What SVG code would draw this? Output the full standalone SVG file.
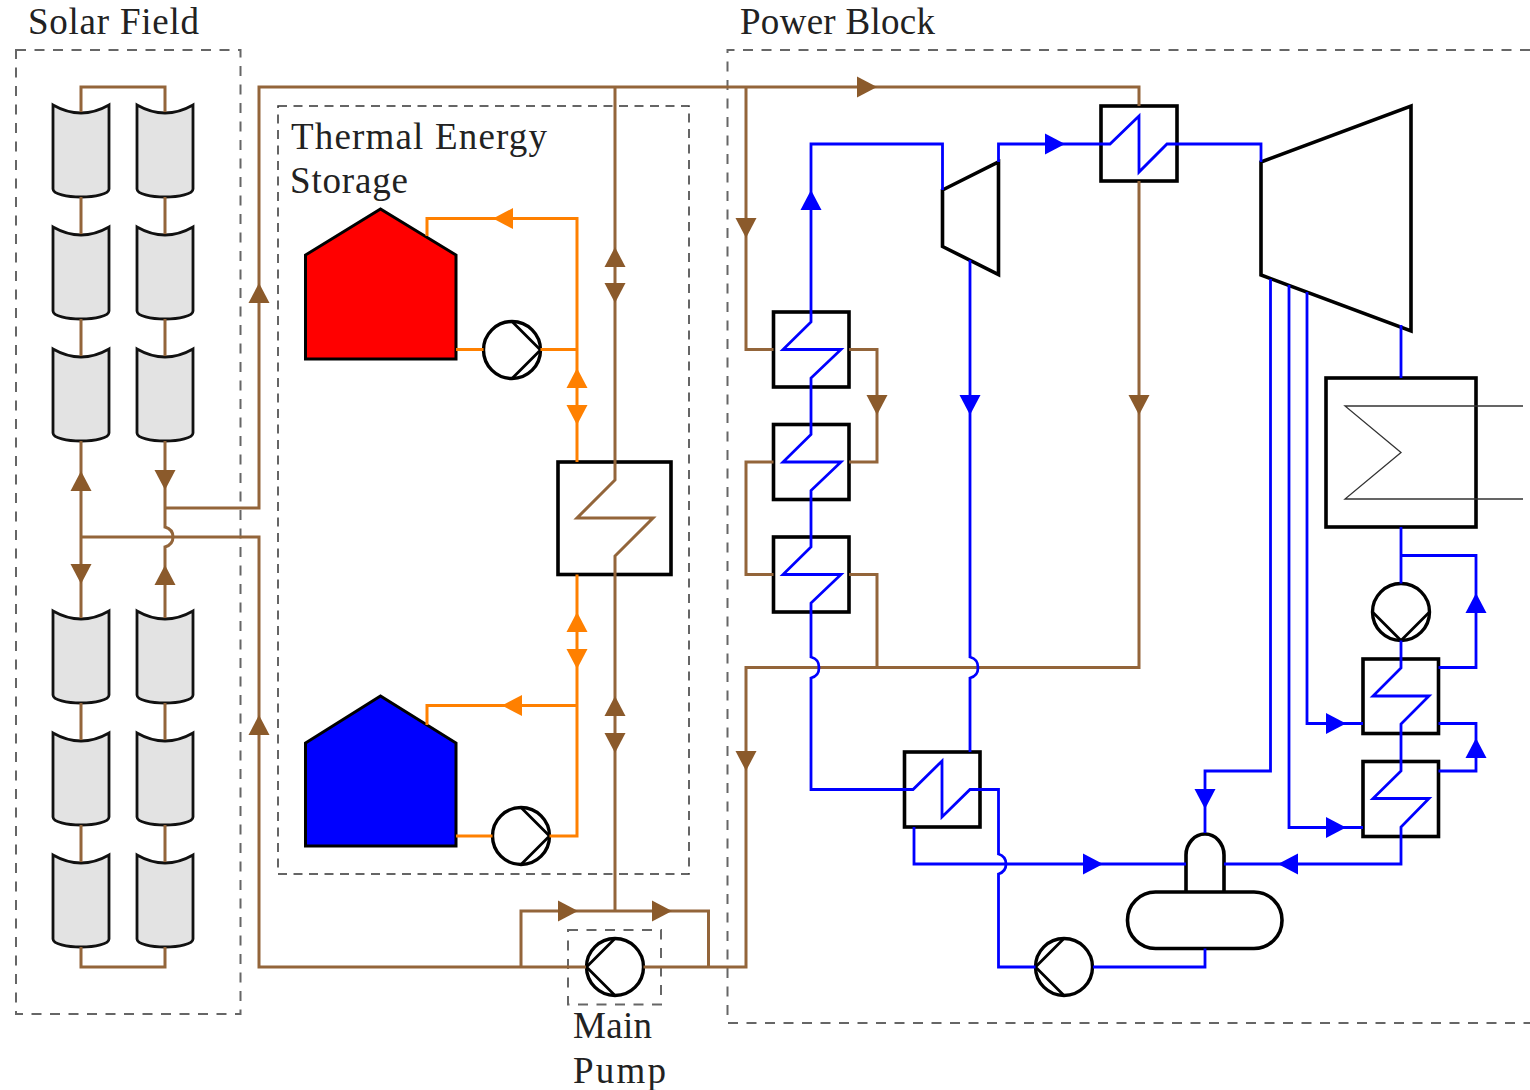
<svg xmlns="http://www.w3.org/2000/svg" xmlns:xlink="http://www.w3.org/1999/xlink" width="1530" height="1090" viewBox="0 0 1530 1090">
<style>
text{font-family:"Liberation Serif","Times New Roman",serif;font-size:37px;fill:#222}
.dash{fill:none;stroke:#666;stroke-width:2;stroke-dasharray:10 8.5}
.dash2{fill:none;stroke:#333;stroke-width:1.5;stroke-dasharray:9 6.5}
.br{fill:none;stroke:#93653a;stroke-width:3;stroke-linejoin:miter}
.bl{fill:none;stroke:#0000ff;stroke-width:2.8}
.or{fill:none;stroke:#ff8000;stroke-width:3}
.k{fill:#fff;stroke:#000;stroke-width:3.6}
.coll{fill:#e3e3e3;stroke:#111;stroke-width:2.8}
.pump{fill:#fff;stroke:#000;stroke-width:3.4}
.pl{fill:none;stroke:#000;stroke-width:2.8}
.abr{fill:#8b5a2b}.abl{fill:#0000ff}.aor{fill:#ff8000}
</style>
<defs>
<path id="a" d="M-10,-10.5 L10,0 L-10,10.5 Z"/>
<path id="c" d="M-28,-8 Q0,8 28,-8 V76 C28,81 14,84 0,84 C-14,84 -28,81 -28,76 Z"/>
<g id="p"><circle r="28.5" class="pump"/><path class="pl" d="M0,-28.5 L-28.5,0 L0,28.5"/></g>
</defs>

<g id="regions">
<rect id="solar-field" class="dash" x="16" y="50" width="224.500" height="964"/>
<path id="power-block" class="dash" d="M1530,50 H727.500 V1023 H1530"/>
<rect id="tes" class="dash2" x="278" y="106" width="411" height="768"/>
<rect id="pump-box" class="dash" x="568" y="930" width="93" height="74.500"/>
</g>

<g id="labels">
<text x="28" y="34" textLength="171">Solar Field</text>
<text x="740" y="34" textLength="195">Power Block</text>
<text x="291" y="149" textLength="256">Thermal Energy</text>
<text x="290" y="193" textLength="118">Storage</text>
<text x="573" y="1038" textLength="79">Main</text>
<text x="573" y="1083" textLength="93">Pump</text>
</g>

<g id="collectors">
<g id="c1"><use href="#c" class="coll" x="81" y="113"/></g>
<g id="c2"><use href="#c" class="coll" x="81" y="235"/></g>
<g id="c3"><use href="#c" class="coll" x="81" y="357"/></g>
<g id="c4"><use href="#c" class="coll" x="165" y="113"/></g>
<g id="c5"><use href="#c" class="coll" x="165" y="235"/></g>
<g id="c6"><use href="#c" class="coll" x="165" y="357"/></g>
<g id="c7"><use href="#c" class="coll" x="81" y="619"/></g>
<g id="c8"><use href="#c" class="coll" x="81" y="741"/></g>
<g id="c9"><use href="#c" class="coll" x="81" y="863"/></g>
<g id="c10"><use href="#c" class="coll" x="165" y="619"/></g>
<g id="c11"><use href="#c" class="coll" x="165" y="741"/></g>
<g id="c12"><use href="#c" class="coll" x="165" y="863"/></g>
</g>

<g id="hot-tank"><path d="M305.500,359 V255 L380.500,209 L456,255 V359 Z" fill="#ff0000" stroke="#000" stroke-width="3"/></g>
<g id="cold-tank"><path d="M305.500,846 V743 L380.500,696 L456,743 V846 Z" fill="#0000ff" stroke="#000" stroke-width="3"/></g>
<g id="hx-main"><rect class="k" x="558" y="462" width="113" height="112.500"/></g>
<g id="hx-top"><rect class="k" x="1101" y="106" width="76" height="75"/></g>
<g id="hx-1"><rect class="k" x="773.500" y="312" width="75.500" height="75"/></g>
<g id="hx-2"><rect class="k" x="773.500" y="424.500" width="75.500" height="75"/></g>
<g id="hx-3"><rect class="k" x="773.500" y="537" width="75.500" height="75"/></g>
<g id="hx-low"><rect class="k" x="904.500" y="752" width="75.500" height="75"/></g>
<g id="hx-r1"><rect class="k" x="1363" y="659" width="75.500" height="74.500"/></g>
<g id="hx-r2"><rect class="k" x="1363" y="761.500" width="75.500" height="75"/></g>
<g id="turbine-hp"><path class="k" d="M942.500,190 L998.500,162 V274.500 L942.500,246.500 Z"/></g>
<g id="turbine-lp"><path class="k" d="M1261,162 L1411,106 V331 L1261,275 Z"/></g>
<g id="condenser"><rect class="k" x="1326" y="378" width="150" height="149"/><path d="M1523,406 H1345 L1401,452.500 L1345,499 H1523" fill="none" stroke="#333" stroke-width="1.300"/></g>
<g id="deaerator"><path class="k" d="M1186,892 V855 A19,21 0 0 1 1224,855 V892"/><rect class="k" x="1127.500" y="892" width="154.500" height="56.500" rx="28" ry="28"/></g>
<g id="pump-hot"><use href="#p" transform="translate(512,350) rotate(180)"/></g>
<g id="pump-cold"><use href="#p" transform="translate(521,836) rotate(180)"/></g>
<g id="pump-main"><use href="#p" transform="translate(615,967)"/></g>
<g id="pump-feed"><use href="#p" transform="translate(1064,967)"/></g>
<g id="pump-cond"><use href="#p" transform="translate(1401,612) rotate(-90)"/></g>

<g id="connectors">
<g class="br">
<path d="M81,112 V87 H165 V112"/>
<path d="M81,197 V234 M81,319 V356 M165,197 V234 M165,319 V356"/>
<path d="M81,703 V740 M81,825 V862 M165,703 V740 M165,825 V862"/>
<path d="M81,947 V967 H165 V947"/>
<path d="M81,441 V618 M81,537 H259 V967 H586"/>
<path d="M165,441 V527 C172,529 173,533 173,537 C173,541 172,545 165,547 V618 M165,508 H259 V87 H1139 V106"/>
<path d="M1139,181 V667.500 H746 V967 H643.500"/>
<path d="M746,87 V349.500 H773.500 M849,349.500 H877 V462 H849 M773.500,462 H746 V574.500 H773.500 M849,574.500 H877 V667.500"/>
<path d="M615,87 V480 L577,518 H653 L615,556 V911 M521,967 V911 H708.500 V967"/>
</g>
<g class="or">
<path d="M427,236 V218.500 H577 V462 M456,349.500 H483.500 M540.500,349.500 H577"/>
<path d="M577,574.500 V836 H549.500 M492.500,836 H456 M577,705.500 H427 V725"/>
</g>
<g class="bl">
<path d="M942.500,190 V144 H811 V322 L783,349.500 H841 L811,378 V434.500 L783,462 H841 L811,490.500 V547 L783,574.500 H841 L811,603 V657 C818,659 819,663 819,667.500 C819,672 818,676 811,678 V789.500 H913 L942,761 V817 L970,789.500 H998.500 V854 C1005,856 1006,860 1006,864 C1006,868 1005,872 998.500,874 V967 H1035.500"/>
<path d="M998.500,162 V144 H1110 L1139,116 V172 L1167,144 H1261 V162"/>
<path d="M970,260 V657 C977,659 978,663 978,667.500 C978,672 977,676 970,678 V752"/>
<path d="M914,827 V864 H1186 M1224,864 H1401 V827 L1429,798.500 H1373 L1401,771 V724 L1429,696 H1373 L1401,668 V640.500"/>
<path d="M1093,967 H1205 V948.500 M1205,833 V771 H1270.500 V279"/>
<path d="M1289,285 V827.500 H1363 M1307,292 V723.500 H1363"/>
<path d="M1401,325 V378 M1401,527 V583.500 M1401,555.500 H1476 V667.500 H1438.500 M1438.500,723.500 H1476 V771 H1438.500"/>
</g>
<g class="abr">
<use href="#a" transform="translate(81,481) rotate(-90)"/>
<use href="#a" transform="translate(81,574) rotate(90)"/>
<use href="#a" transform="translate(165,480) rotate(90)"/>
<use href="#a" transform="translate(165,575) rotate(-90)"/>
<use href="#a" transform="translate(259,293) rotate(-90)"/>
<use href="#a" transform="translate(259,725) rotate(-90)"/>
<use href="#a" transform="translate(867,87)"/>
<use href="#a" transform="translate(746,228) rotate(90)"/>
<use href="#a" transform="translate(746,761) rotate(90)"/>
<use href="#a" transform="translate(877,405) rotate(90)"/>
<use href="#a" transform="translate(1139,405) rotate(90)"/>
<use href="#a" transform="translate(615,257) rotate(-90)"/>
<use href="#a" transform="translate(615,293) rotate(90)"/>
<use href="#a" transform="translate(615,706) rotate(-90)"/>
<use href="#a" transform="translate(615,743) rotate(90)"/>
<use href="#a" transform="translate(568,911)"/>
<use href="#a" transform="translate(662,911)"/>
</g>
<g class="aor">
<use href="#a" transform="translate(503,218.500) rotate(180)"/>
<use href="#a" transform="translate(512,705.500) rotate(180)"/>
<use href="#a" transform="translate(577,378) rotate(-90)"/>
<use href="#a" transform="translate(577,415) rotate(90)"/>
<use href="#a" transform="translate(577,622) rotate(-90)"/>
<use href="#a" transform="translate(577,659) rotate(90)"/>
</g>
<g class="abl">
<use href="#a" transform="translate(1055,144)"/>
<use href="#a" transform="translate(811,200) rotate(-90)"/>
<use href="#a" transform="translate(970,405) rotate(90)"/>
<use href="#a" transform="translate(1093,864)"/>
<use href="#a" transform="translate(1205,799) rotate(90)"/>
<use href="#a" transform="translate(1288,864) rotate(180)"/>
<use href="#a" transform="translate(1336,723.500)"/>
<use href="#a" transform="translate(1336,827.500)"/>
<use href="#a" transform="translate(1476,603) rotate(-90)"/>
<use href="#a" transform="translate(1476,748) rotate(-90)"/>
</g>
</g>
</svg>
